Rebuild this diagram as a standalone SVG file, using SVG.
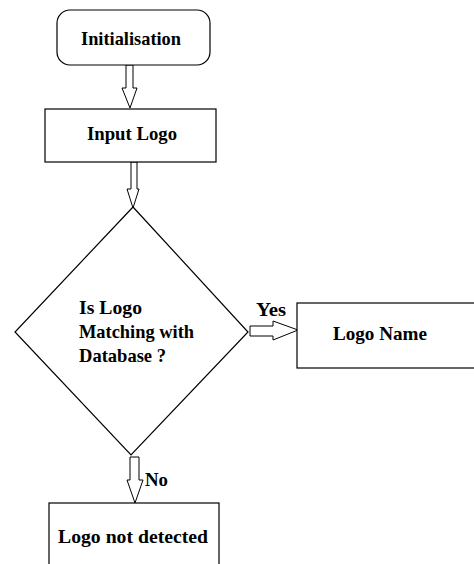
<svg xmlns="http://www.w3.org/2000/svg" width="474" height="564" viewBox="0 0 474 564">
<style>
.shape{fill:#fff;stroke:#000;stroke-width:1.2}
.arrow{fill:#fff;stroke:#000;stroke-width:1}
.t{font-family:"Liberation Serif","Times New Roman",serif;font-weight:bold;font-size:19.5px;fill:#000}
</style>
<rect width="474" height="564" fill="#fff"/>
<g id="connectors">
<polygon class="arrow" points="126,65 133,65 133,88 137,88 130,108 122,88 126,88"/>
<polygon class="arrow" points="131,162 137,162 137,189 139,189 133,208 127,189 131,189"/>
<polygon class="arrow" points="250,326 273,326 273,321 298,330 273,340 273,336 250,336"/>
<polygon class="arrow" points="130,457 139,457 139,480 143,480 135,503 127,480 130,480"/>
<text class="t" x="256" y="316" textLength="30" lengthAdjust="spacingAndGlyphs">Yes</text>
<text class="t" x="145" y="486" textLength="23" lengthAdjust="spacingAndGlyphs">No</text>
</g>
<g id="initialisation">
<rect class="shape" x="57" y="10" width="153" height="55" rx="13" ry="13"/>
<text class="t" x="81" y="45" textLength="100" lengthAdjust="spacingAndGlyphs">Initialisation</text>
</g>
<g id="input-logo">
<rect class="shape" x="45" y="109" width="171" height="53"/>
<text class="t" x="87" y="140" textLength="90" lengthAdjust="spacingAndGlyphs">Input Logo</text>
</g>
<g id="decision">
<polygon class="shape" points="133,207 248,332 131,455 15,332"/>
<text class="t" x="79" y="314" textLength="63" lengthAdjust="spacingAndGlyphs">Is Logo</text>
<text class="t" x="79" y="338" textLength="115" lengthAdjust="spacingAndGlyphs">Matching with</text>
<text class="t" x="79" y="362" textLength="87" lengthAdjust="spacingAndGlyphs">Database ?</text>
</g>
<g id="logo-name">
<rect class="shape" x="297" y="303" width="185" height="65"/>
<text class="t" x="333" y="340" textLength="94" lengthAdjust="spacingAndGlyphs">Logo Name</text>
</g>
<g id="logo-not-detected">
<rect class="shape" x="49" y="503" width="170" height="70"/>
<text class="t" x="58" y="543" textLength="150" lengthAdjust="spacingAndGlyphs">Logo not detected</text>
</g>
</svg>
